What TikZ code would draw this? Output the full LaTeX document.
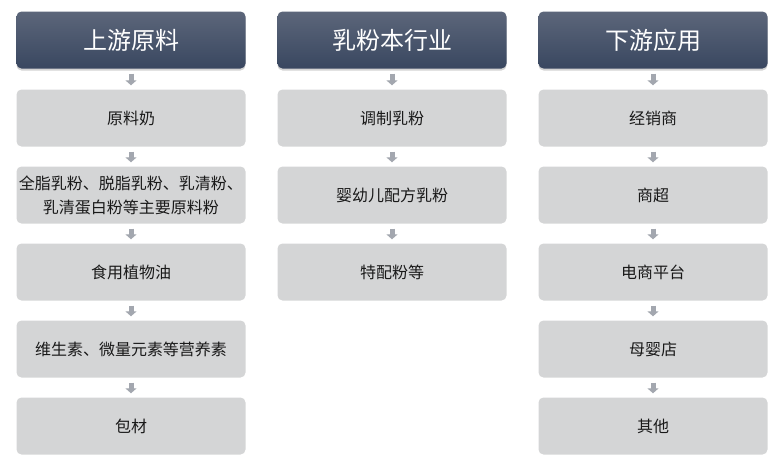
\documentclass[tikz,border=0pt]{standalone}
\usepackage{fontspec}
\newfontfamily\cjk{Noto Sans CJK SC}
\usetikzlibrary{arrows.meta,shadows}
\definecolor{hdrtop}{HTML}{5C667A}
\definecolor{hdrbot}{HTML}{394760}
\definecolor{boxgray}{HTML}{D4D5D6}
\definecolor{arrowgray}{HTML}{A3A7AF}
\begin{document}
\begin{tikzpicture}[x=1pt,y=-1pt,
  hdr/.style={rounded corners=5pt, minimum width=229pt, minimum height=57pt,
    top color=hdrtop, bottom color=hdrbot, text=white,
    font=\cjk\fontsize{24}{28}\selectfont,
    drop shadow={shadow xshift=0pt,shadow yshift=-2pt,opacity=0.35}},
  itm/.style={rounded corners=5pt, minimum width=229pt, minimum height=57pt,
    fill=boxgray, inner xsep=0pt, align=center, text=black!90,
    font=\cjk\fontsize{16}{24}\selectfont},
  flow/.style={draw=arrowgray, line width=5pt,
    -{Triangle[width=11pt,length=5pt]}, shorten <=5pt, shorten >=4pt}]
\useasboundingbox (0,0) rectangle (777,458);
% column 1
\node[hdr] (h1) at (131,40) {上游原料};
\node[itm] (a1) at (131,118) {原料奶};
\node[itm] (a2) at (131,195) {全脂乳粉、脱脂乳粉、乳清粉、\\乳清蛋白粉等主要原料粉};
\node[itm] (a3) at (131,272) {食用植物油};
\node[itm] (a4) at (131,349) {维生素、微量元素等营养素};
\node[itm] (a5) at (131,426) {包材};
% column 2
\node[hdr] (h2) at (392,40) {乳粉本行业};
\node[itm] (b1) at (392,118) {调制乳粉};
\node[itm] (b2) at (392,195) {婴幼儿配方乳粉};
\node[itm] (b3) at (392,272) {特配粉等};
% column 3
\node[hdr] (h3) at (653,40) {下游应用};
\node[itm] (c1) at (653,118) {经销商};
\node[itm] (c2) at (653,195) {商超};
\node[itm] (c3) at (653,272) {电商平台};
\node[itm] (c4) at (653,349) {母婴店};
\node[itm] (c5) at (653,426) {其他};
% connectors
\draw[flow] (h1) -- (a1);
\draw[flow] (a1) -- (a2);
\draw[flow] (a2) -- (a3);
\draw[flow] (a3) -- (a4);
\draw[flow] (a4) -- (a5);
\draw[flow] (h2) -- (b1);
\draw[flow] (b1) -- (b2);
\draw[flow] (b2) -- (b3);
\draw[flow] (h3) -- (c1);
\draw[flow] (c1) -- (c2);
\draw[flow] (c2) -- (c3);
\draw[flow] (c3) -- (c4);
\draw[flow] (c4) -- (c5);
\end{tikzpicture}
\end{document}
